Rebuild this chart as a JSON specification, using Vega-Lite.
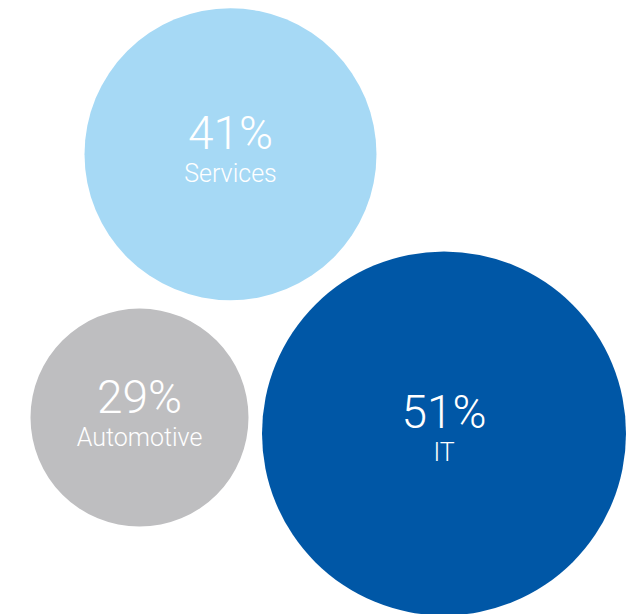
{
  "$schema": "https://vega.github.io/schema/vega-lite/v6.json",
  "width": 636,
  "height": 614,
  "autosize": {"type": "fit", "contains": "padding"},
  "padding": 0,
  "background": "white",
  "config": {"view": {"stroke": null}},
  "data": {
    "values": [
      {"sector": "Services", "share": 0.41, "cx": 230.5, "cy": 155.5},
      {"sector": "Automotive", "share": 0.29, "cx": 139.5, "cy": 421},
      {"sector": "IT", "share": 0.51, "cx": 444, "cy": 437}
    ]
  },
  "encoding": {
    "x": {"field": "cx", "type": "quantitative", "scale": {"domain": [0, 636], "nice": false, "zero": false}, "axis": null},
    "y": {"field": "cy", "type": "quantitative", "scale": {"domain": [0, 614], "nice": false, "zero": false, "reverse": true}, "axis": null}
  },
  "layer": [
    {
      "mark": {"type": "circle", "opacity": 1, "strokeWidth": 0},
      "encoding": {
        "size": {"field": "share", "type": "quantitative", "scale": {"type": "pow", "exponent": 2.5, "domain": [0.29, 0.51], "range": [47524, 132496]}, "legend": null},
        "color": {"field": "sector", "type": "nominal", "scale": {"domain": ["Services", "Automotive", "IT"], "range": ["#a6d9f5", "#bebec0", "#0057a6"]}, "legend": null}
      }
    },
    {
      "mark": {"type": "text", "font": "Roboto", "fontWeight": 300, "fontSize": 46, "color": "white", "baseline": "alphabetic", "align": "center", "dy": -5},
      "encoding": {"text": {"field": "share", "type": "quantitative", "format": ".0%"}}
    },
    {
      "mark": {"type": "text", "font": "Roboto", "fontWeight": 300, "fontSize": 25, "color": "white", "baseline": "alphabetic", "align": "center", "dy": 28},
      "encoding": {"text": {"field": "sector", "type": "nominal"}}
    }
  ]
}
